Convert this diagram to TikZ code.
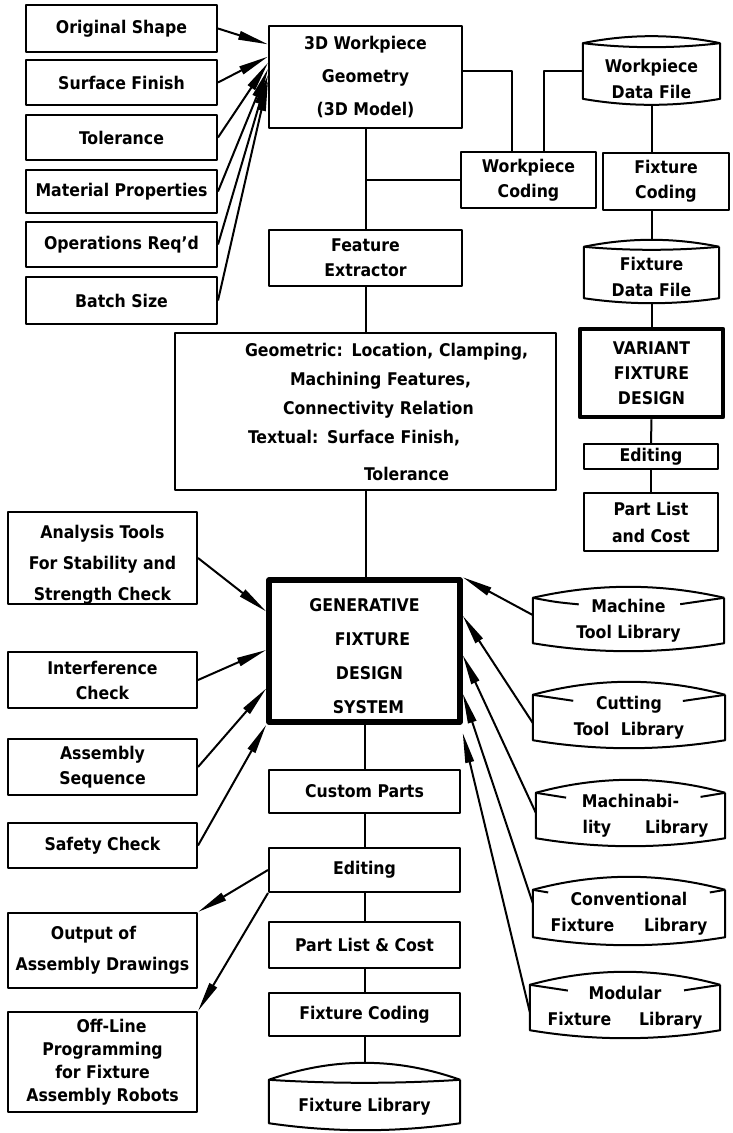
\documentclass[tikz,border=0pt]{standalone}
\usepackage{fontspec}
\setmainfont{DejaVu Sans Condensed}
\usetikzlibrary{arrows.meta,calc}
\newcommand\fs[1]{\fontsize{17.5}{#1}\selectfont\bfseries}

% outline of a drum (data file / library): sides, top arc and bottom arc
\newcommand\drumoutline[3]{% node, top rise, bottom dip
  \draw[link] (#1.north east) -- (#1.south east)
    .. controls ($(#1.south east)!1/3!(#1.south west)+(0,{4/3*#3})$)
            and ($(#1.south east)!2/3!(#1.south west)+(0,{4/3*#3})$) .. (#1.south west)
    -- (#1.north west)
    .. controls ($(#1.north west)!1/3!(#1.north east)+(0,{-4/3*#2})$)
            and ($(#1.north west)!2/3!(#1.north east)+(0,{-4/3*#2})$) .. (#1.north east);
}
% full lower edge of the drum lid
\newcommand\drumlid[2]{% node, dip
  \draw[link] (#1.north west)
    .. controls ($(#1.north west)!1/3!(#1.north east)+(0,{4/3*#2})$)
            and ($(#1.north west)!2/3!(#1.north east)+(0,{4/3*#2})$) .. (#1.north east);
}
% lower edge of the lid, broken where the title crosses it (dip 9)
\newcommand\drumlidparts[3]{% node, left part, right part
  \draw[link] (#1.north west)
    .. controls ($(#1.north west)!#2/2!(#1.north east)+(0,{18*#2})$)
    .. ($(#1.north west)!#2!(#1.north east)+(0,{36*#2*(1-#2)})$);
  \draw[link] (#1.north east)
    .. controls ($(#1.north east)!#3/2!(#1.north west)+(0,{18*#3})$)
    .. ($(#1.north east)!#3!(#1.north west)+(0,{36*#3*(1-#3)})$);
}

\begin{document}
\begin{tikzpicture}[x=1pt,y=-1pt,line join=round,
  box/.style={draw,line width=2pt,inner sep=0pt,align=center,font=\fs{25}},
  heavy/.style={box,line width=5.5pt},
  tank/.style={inner sep=0pt,align=center,font=\fs{26}},
  link/.style={line width=2pt},
  feed/.style={line width=2pt,-{Triangle[length=30pt,width=8.5pt]}}]
\useasboundingbox (0,0) rectangle (732,1133);

% ---- inputs to the workpiece model
\node[box,minimum width=191,minimum height=47] (orig)  at (121.5,28.5)  {Original Shape};
\node[box,minimum width=191,minimum height=45] (surf)  at (121.5,82.5)  {Surface Finish};
\node[box,minimum width=191,minimum height=45] (tol)   at (121.5,137.5) {Tolerance};
\node[box,minimum width=191,minimum height=43] (mat)   at (121.5,191.5) {Material Properties};
\node[box,minimum width=191,minimum height=45] (ops)   at (121.5,244.5) {Operations Req'd};
\node[box,minimum width=191,minimum height=47] (batch) at (121.5,300.5) {Batch Size};

% ---- central column
\node[box,minimum width=193,minimum height=102,font=\fs{33}] (geom) at (365.5,77)
  {3D Workpiece\\Geometry\\(3D Model)};
\node[box,minimum width=193,minimum height=56] (feat) at (365.5,258) {Feature\\Extractor};
\node[box,minimum width=381,minimum height=157,text width=361pt,align=left,font=\fs{29}]
  (feats) at (365.5,411.5)
  {\hspace*{60pt}Geometric: Location, Clamping,\\
   \hspace*{105pt}Machining Features,\\
   \hspace*{98pt}Connectivity Relation\\
   \hspace*{63pt}Textual: Surface Finish,\\[8pt]
   \hspace*{179pt}Tolerance};
\node[heavy,minimum width=191,minimum height=142,font=\fs{34}] (gen) at (364.5,651)
  {\rule{0pt}{23pt}GENERATIVE\\\hspace*{16pt}FIXTURE\\\hspace*{10pt}DESIGN\\\hspace*{8pt}SYSTEM};
\node[box,minimum width=191,minimum height=43] (custom) at (364.5,791.5) {Custom Parts};
\node[box,minimum width=191,minimum height=44] (edit)   at (364.5,870)   {Editing};
\node[box,minimum width=191,minimum height=46] (plist)  at (364.5,945)   {Part List \& Cost};
\node[box,minimum width=191,minimum height=43] (fcode)  at (364.5,1014.5) {Fixture Coding};
\node[tank,minimum width=191,minimum height=43] (flib)  at (364.5,1101.5) {\rule{0pt}{23pt}Fixture Library};

% ---- variant branch
\node[box,minimum width=135,minimum height=56] (wpc) at (528.5,180) {Workpiece\\Coding};
\node[tank,minimum width=137,minimum height=52] (wdf) at (651.5,71) {\rule{0pt}{29pt}Workpiece\\Data File};
\node[box,minimum width=126,minimum height=57] (fxc) at (666,181.5) {Fixture\\Coding};
\node[tank,minimum width=135,minimum height=51] (fdf) at (651.5,272.5) {\rule{0pt}{23pt}Fixture\\Data File};
\node[box,line width=4.5pt,minimum width=143,minimum height=88] (variant) at (651.5,373)
  {VARIANT\\FIXTURE\\DESIGN};
\node[box,minimum width=134,minimum height=25] (edit2)  at (651,456.5) {Editing};
\node[box,minimum width=134,minimum height=58,font=\fs{27}] (plist2) at (651,522) {Part List\\and Cost};

% ---- checks and outputs
\node[box,minimum width=189,minimum height=92,font=\fs{31}] (anal) at (102.5,558)
  {\rule{0pt}{26pt}Analysis Tools\\For Stability and\\Strength Check};
\node[box,minimum width=189,minimum height=56] (intf) at (102.5,680)   {Interference\\Check};
\node[box,minimum width=189,minimum height=56] (asm)  at (102.5,767) {Assembly\\Sequence};
\node[box,minimum width=189,minimum height=45] (safe) at (102.5,845.5) {Safety Check};
\node[box,minimum width=189,minimum height=75,font=\fs{31}] (outp) at (102.5,950.5)
  {Output of\hspace*{18pt}\\Assembly Drawings};
\node[box,minimum width=189,minimum height=100,font=\fs{23}] (offl) at (102.5,1062)
  {\hspace*{18pt}Off-Line\\Programming\\for Fixture\\Assembly Robots};

% ---- libraries
\node[tank,minimum width=191,minimum height=45] (mtl) at (628.5,620.5) {Machine\\Tool Library};
\node[tank,minimum width=192,minimum height=45] (ctl) at (629,717.5) {Cutting\\Tool\hspace{6pt} Library};
\node[tank,minimum width=189,minimum height=45] (mbl) at (630.5,815.5)
  {Machinabi-\\\hspace*{30pt}lity\hspace{34pt}Library};
\node[tank,minimum width=192,minimum height=47] (cfl) at (629,913.5)
  {Conventional\\Fixture\hspace{30pt}Library};
\node[tank,minimum width=190,minimum height=45] (mfl) at (625,1007.5)
  {Modular\\Fixture\hspace{28pt}Library};

% ---- drum outlines
\drumoutline{wdf}{7}{6}  \drumlid{wdf}{4}
\drumoutline{fdf}{7}{5}  \drumlid{fdf}{3}
\drumoutline{flib}{17}{7} \drumlid{flib}{3}
\drumoutline{mtl}{11}{8} \drumlidparts{mtl}{0.24}{0.23}
\drumoutline{ctl}{13}{8} \drumlidparts{ctl}{0.21}{0.22}
\drumoutline{mbl}{13}{8} \drumlidparts{mbl}{0.16}{0.13}
\drumoutline{cfl}{13}{8} \drumlidparts{cfl}{0.08}{0.08}
\drumoutline{mfl}{13}{8} \drumlidparts{mfl}{0.20}{0.19}

% ---- points where connectors meet the boxes
\coordinate (g1) at ($(geom.north west)!0.186!(geom.south west)$);
\coordinate (g2) at ($(geom.north west)!0.304!(geom.south west)$);
\coordinate (g3) at ($(geom.north west)!0.363!(geom.south west)$);
\coordinate (g4) at ($(geom.north west)!0.422!(geom.south west)$);
\coordinate (g5) at ($(geom.north west)!0.480!(geom.south west)$);
\coordinate (g6) at ($(geom.north west)!0.539!(geom.south west)$);
\coordinate (gr) at ($(geom.north east)!0.44!(geom.south east)$);
\coordinate (wpcA) at ($(wpc.north west)!0.378!(wpc.north east)$);
\coordinate (wpcB) at ($(wpc.north west)!0.615!(wpc.north east)$);
\coordinate (wdfB) at ($(wdf.south)+(0,6)$);
\coordinate (fdfT) at ($(fdf.north)+(0,-7)$);
\coordinate (fdfB) at ($(fdf.south)+(0,5)$);
\coordinate (flibT) at ($(flib.north)+(0,-17)$);
\coordinate (s1) at ($(gen.north west)!0.232!(gen.south west)$);
\coordinate (s2) at ($(gen.north west)!0.493!(gen.south west)$);
\coordinate (s3) at ($(gen.north west)!0.754!(gen.south west)$);
\coordinate (r2) at ($(gen.north east)!0.261!(gen.south east)$);
\coordinate (r3) at ($(gen.north east)!0.528!(gen.south east)$);
\coordinate (r4) at ($(gen.north east)!0.789!(gen.south east)$);
\coordinate (r5) at ($(gen.north east)!1.056!(gen.south east)$);
\coordinate (m1) at ($(mtl.north west)!0.38!(mtl.south west)$);
\coordinate (m2) at ($(ctl.north west)!0.62!(ctl.south west)$);
\coordinate (m3) at ($(mbl.north west)!0.44!(mbl.south west)$);
\coordinate (m4) at ($(cfl.north west)!0.28!(cfl.south west)$);
\coordinate (m5) at ($(mfl.north west)!0.60!(mfl.south west)$);

% ---- plain links
\draw[link] (geom.south) -- (feat.north);
\draw[link] (feat.south) -- (feats.north);
\draw[link] (feats.south) -- (feats.south |- gen.north);
\draw[link] (gen.south) -- (custom.north);
\draw[link] (custom.south) -- (edit.north);
\draw[link] (edit.south) -- (plist.north);
\draw[link] (plist.south) -- (fcode.north);
\draw[link] (fcode.south) -- (flibT);
\draw[link] (gr) -| (wpcA);
\draw[link] (wdf.west) -| (wpcB);
\draw[link] (geom.south |- wpc.west) -- (wpc.west);
\draw[link] (wdfB) -- (wdfB |- fxc.north);
\draw[link] (fdfT |- fxc.south) -- (fdfT);
\draw[link] (fdfB) -- (variant.north);
\draw[link] (variant.south) -- (edit2.north);
\draw[link] (edit2.south) -- (plist2.north);

% ---- arrows
\draw[feed] (orig.east)  -- (g1);
\draw[feed] (surf.east)  -- (g2);
\draw[feed] (tol.east)   -- (g3);
\draw[feed] (mat.east)   -- (g4);
\draw[feed] (ops.east)   -- (g5);
\draw[feed] (batch.east) -- (g6);
\draw[feed] (anal.east) -- (s1);
\draw[feed] (intf.east) -- (s2);
\draw[feed] (asm.east)  -- (s3);
\draw[feed] (safe.east) -- (gen.south west);
\draw[feed] (m1) -- (gen.north east);
\draw[feed] (m2) -- (r2);
\draw[feed] (m3) -- (r3);
\draw[feed] (m4) -- (r4);
\draw[feed] (m5) -- (r5);
\draw[feed] (edit.west) -- (outp.north east);
\draw[feed] (edit.south west) -- (offl.north east);
\end{tikzpicture}
\end{document}
